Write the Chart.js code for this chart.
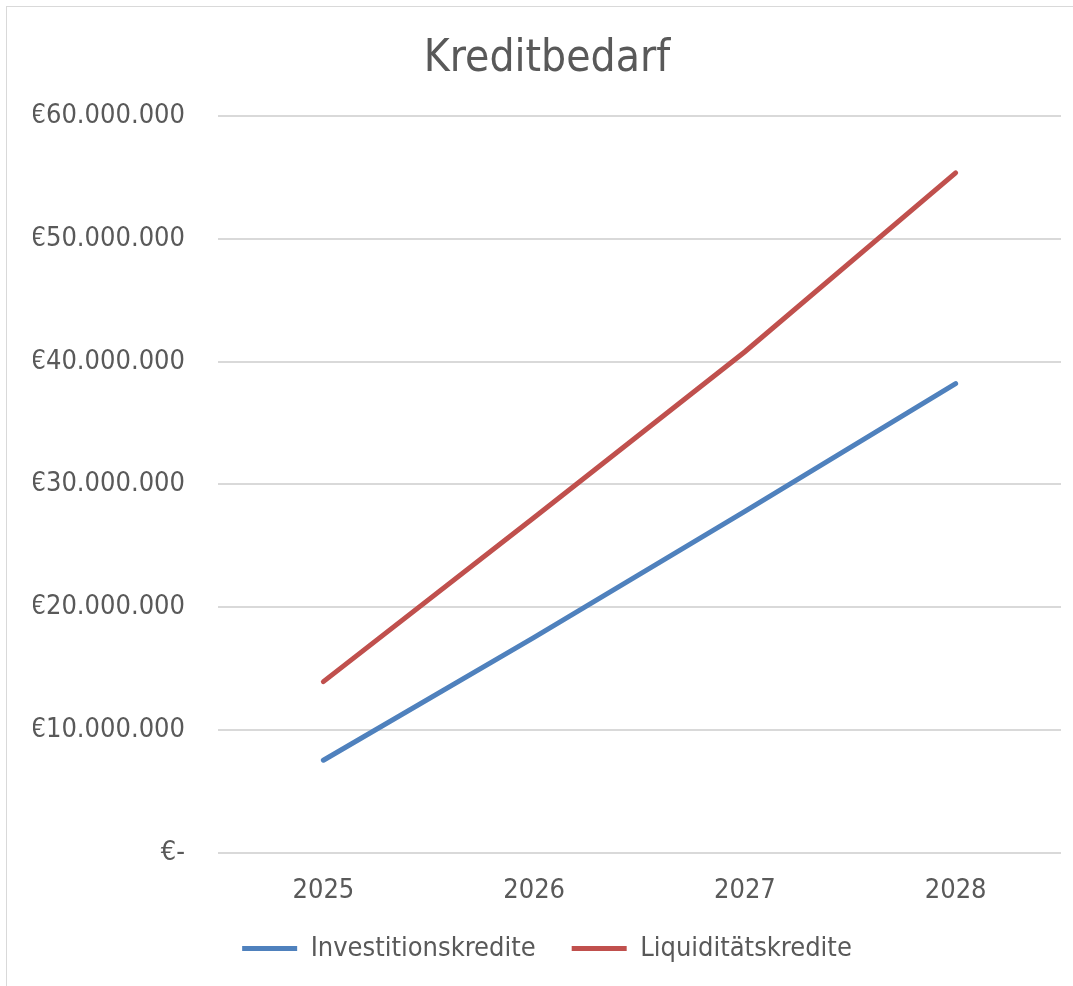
<!DOCTYPE html>
<html>
<head>
<meta charset="utf-8">
<script src="https://cdn.jsdelivr.net/npm/chart.js@4"></script>
<style>
  html, body { margin: 0; padding: 0; background: #fff; }
  #wrap { position: relative; width: 1073px; height: 986px; }
  #frame { position: absolute; left: 6px; top: 6px; width: 1080px; height: 990px; border: 1px solid #d9d9d9; box-sizing: border-box; pointer-events: none; }
  canvas { position: absolute; left: 0; top: 0; }
</style>
</head>
<body>
<div id="wrap">
  <canvas id="kreditChart" width="1073" height="986"></canvas>
  <div id="frame"></div>
</div>
<script>
// Data
const years = ['2025', '2026', '2027', '2028'];
const investitionskredite = [7550000, 17550000, 27800000, 38200000];
const liquiditaetskredite = [13950000, 27300000, 40800000, 55350000];
const yTicks = [0, 10000000, 20000000, 30000000, 40000000, 50000000, 60000000];

const FONT = "'DejaVu Sans Condensed', 'Liberation Sans Narrow', sans-serif";
const TEXT = '#595959';

// German style euro formatting, zero shown as "€-"
function formatEuro(v) {
  if (v === 0) return '€-';
  return '€' + String(Math.round(v)).replace(/\B(?=(\d{3})+(?!\d))/g, '.');
}

new Chart(document.getElementById('kreditChart'), {
  type: 'line',
  data: {
    labels: years,
    datasets: [{
      label: 'Investitionskredite',
      data: investitionskredite,
      borderColor: '#4f81bd',
      backgroundColor: '#4f81bd',
      borderWidth: 5,
      borderCapStyle: 'round',
      pointRadius: 0,
      tension: 0,
    }, {
      label: 'Liquiditätskredite',
      data: liquiditaetskredite,
      borderColor: '#c0504d',
      backgroundColor: '#c0504d',
      borderWidth: 5,
      borderCapStyle: 'round',
      pointRadius: 0,
      tension: 0,
    }],
  },
  options: {
    responsive: false,
    animation: false,
    layout: { padding: { left: 33, right: 12, top: 20, bottom: 14 } },
    plugins: {
      title: {
        display: true,
        text: 'Kreditbedarf',
        color: TEXT,
        font: { family: FONT, size: 44, weight: 'normal' },
        padding: { top: 13, bottom: 30 },
      },
      legend: {
        position: 'bottom',
        labels: {
          color: TEXT,
          font: { family: FONT, size: 27 },
          boxWidth: 55,
          boxHeight: 5,
          padding: 36,
          generateLabels(chart) {
            return chart.data.datasets.map((ds, i) => ({
              text: ds.label,
              fillStyle: ds.borderColor,
              strokeStyle: ds.borderColor,
              lineWidth: 0,
              fontColor: TEXT,
              datasetIndex: i,
            }));
          },
        },
      },
      tooltip: { enabled: false },
    },
    scales: {
      x: {
        offset: true,
        afterFit(axis) { axis.height = 46; },
        grid: { display: false, drawTicks: false },
        border: { display: false },
        ticks: { color: TEXT, font: { family: FONT, size: 27 }, padding: 22 },
      },
      y: {
        min: 0,
        max: 60000000,
        afterBuildTicks(axis) { axis.ticks = yTicks.map(v => ({ value: v })); },
        afterFit(axis) { axis.width = 185; },
        grid: { color: '#d9d9d9', lineWidth: 2, drawTicks: false },
        border: { display: false },
        ticks: {
          color: TEXT,
          font: { family: FONT, size: 27 },
          padding: 33,
          callback: v => formatEuro(v),
        },
      },
    },
  },
});
</script>
</body>
</html>
